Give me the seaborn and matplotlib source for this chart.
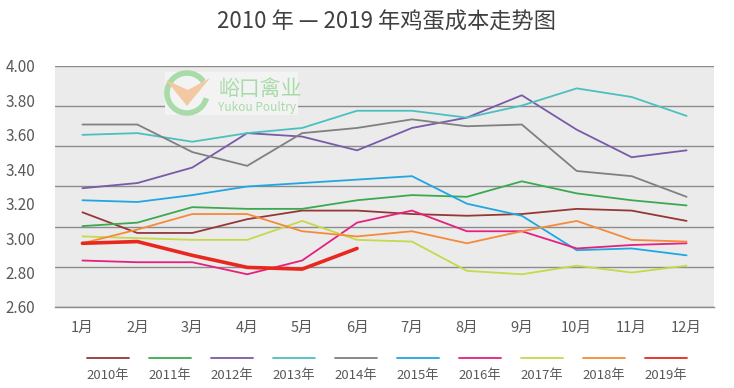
import numpy as np
import pandas as pd
import matplotlib
matplotlib.use("Agg")
import matplotlib.pyplot as plt
from matplotlib.lines import Line2D
from matplotlib.patches import Arc, Polygon, Rectangle
import seaborn as sns

# --- data ---
MONTHS = ["1月", "2月", "3月", "4月", "5月", "6月",
          "7月", "8月", "9月", "10月", "11月", "12月"]
YEARS = ["2010年", "2011年", "2012年", "2013年", "2014年",
         "2015年", "2016年", "2017年", "2018年", "2019年"]

COST_2010 = [3.15, 3.03, 3.03, 3.11, 3.16, 3.16, 3.14, 3.13, 3.14, 3.17, 3.16, 3.10]
COST_2011 = [3.07, 3.09, 3.18, 3.17, 3.17, 3.22, 3.25, 3.24, 3.33, 3.26, 3.22, 3.19]
COST_2012 = [3.29, 3.32, 3.41, 3.61, 3.59, 3.51, 3.64, 3.70, 3.83, 3.63, 3.47, 3.51]
COST_2013 = [3.60, 3.61, 3.56, 3.61, 3.64, 3.74, 3.74, 3.70, 3.77, 3.87, 3.82, 3.71]
COST_2014 = [3.66, 3.66, 3.50, 3.42, 3.61, 3.64, 3.69, 3.65, 3.66, 3.39, 3.36, 3.24]
COST_2015 = [3.22, 3.21, 3.25, 3.30, 3.32, 3.34, 3.36, 3.20, 3.13, 2.93, 2.94, 2.90]
COST_2016 = [2.87, 2.86, 2.86, 2.79, 2.87, 3.09, 3.16, 3.04, 3.04, 2.94, 2.96, 2.97]
COST_2017 = [3.01, 3.00, 2.99, 2.99, 3.10, 2.99, 2.98, 2.81, 2.79, 2.84, 2.80, 2.84]
COST_2018 = [2.97, 3.05, 3.14, 3.14, 3.04, 3.01, 3.04, 2.97, 3.04, 3.10, 2.99, 2.98]
COST_2019 = [2.97, 2.98, 2.90, 2.83, 2.82, 2.94]

SERIES = [COST_2010, COST_2011, COST_2012, COST_2013, COST_2014,
          COST_2015, COST_2016, COST_2017, COST_2018, COST_2019]

Y_LABELS = [2.60, 2.80, 3.00, 3.20, 3.40, 3.60, 3.80, 4.00]

# --- style ---
COLORS = ["#953735", "#3BAA4E", "#7A5AA8", "#4CBFBF", "#808080",
          "#1EA7E1", "#E5207F", "#C5D94B", "#F58B3A", "#E8281F"]
PALETTE = dict(zip(YEARS, COLORS))
WIDTHS = {y: 1.3 for y in YEARS}
WIDTHS["2019年"] = 2.6

BG = "#EBEBEB"
GRID = "#8C8C8C"
TEXT = "#595959"

sns.set_style("white")
plt.rcParams["font.family"] = ["Noto Sans CJK SC", "DejaVu Sans"]

# long-form frame for seaborn
rows = []
for year, vals in zip(YEARS, SERIES):
    for i, v in enumerate(vals):
        rows.append({"year": year, "pos": i, "cost": v})
df = pd.DataFrame(rows)

fig = plt.figure(figsize=(7.34, 3.88), dpi=100)
ax = fig.add_axes([0.0749, 0.2088, 0.8979, 0.6211])
ax.set_facecolor(BG)

sns.lineplot(data=df, x="pos", y="cost", hue="year", size="year",
             palette=PALETTE, sizes=WIDTHS, sort=False, legend=False,
             ax=ax, zorder=3)

ax.set_xlim(-0.5, 11.5)
ax.set_ylim(2.6, 4.0)

# x axis: labels at month centres, tick marks at the boundaries
ax.set_xticks(range(len(MONTHS)))
ax.set_xticklabels(MONTHS)
ax.set_xticks(np.arange(-0.5, len(MONTHS), 1), minor=True)
ax.tick_params(axis="x", which="major", length=0, pad=10,
               labelsize=10.5, labelcolor=TEXT)
ax.tick_params(axis="x", which="minor", length=4, width=0.8,
               color=GRID, direction="out")

# y axis: labels every 0.20, gridlines in six equal bands (as in the source)
ax.set_yticks(Y_LABELS)
ax.set_yticklabels([f"{v:.2f}" for v in Y_LABELS])
ax.set_yticks(np.linspace(2.6, 4.0, 7), minor=True)
ax.yaxis.remove_overlapping_locs = False
ax.tick_params(axis="y", which="both", length=0, pad=14,
               labelsize=11, labelcolor=TEXT)
ax.grid(False)
ax.grid(True, which="minor", axis="y", color=GRID, linewidth=1.0, zorder=1)
ax.set_axisbelow(True)

for side in ["left", "right", "top"]:
    ax.spines[side].set_visible(False)
ax.spines["bottom"].set_color(GRID)
ax.spines["bottom"].set_linewidth(1.0)
ax.set_xlabel("")
ax.set_ylabel("")

# title
fig.text(0.527, 0.943, "2010 年 — 2019 年鸡蛋成本走势图",
         ha="center", va="center", fontsize=16, fontweight="light",
         color="#404040")

# watermark logo
fig.add_artist(Rectangle((1.65, 2.73), 1.33, 0.43, transform=fig.dpi_scale_trans,
                         facecolor="#F3F3F3", edgecolor="none", zorder=2))
fig.add_artist(Arc((1.87, 2.95), 0.40, 0.40, theta1=35, theta2=345,
                   transform=fig.dpi_scale_trans, color="#A8DBA8",
                   linewidth=4, zorder=2))
fig.add_artist(Polygon([(1.66, 3.08), (1.87, 2.82), (2.10, 3.10), (1.88, 2.98)],
                       closed=True, transform=fig.dpi_scale_trans,
                       facecolor="#F2C9A2", edgecolor="none", zorder=2))
fig.text(2.18, 2.98, "峪口禽业", transform=fig.dpi_scale_trans,
         ha="left", va="center", fontsize=15, color="#A8DBA8", zorder=2)
fig.text(2.18, 2.80, "Yukou Poultry", transform=fig.dpi_scale_trans,
         ha="left", va="center", fontsize=8.5, color="#A8DBA8", zorder=2)

# legend: short line above each year label
x_center = 0.527
step = 62 / 734
half = 21 / 734
for i, (year, color) in enumerate(zip(YEARS, COLORS)):
    xc = x_center + (i - 4.5) * step
    fig.add_artist(Line2D([xc - half, xc + half], [1 - 358 / 388] * 2,
                          color=color, linewidth=1.3))
    fig.text(xc, 1 - 376 / 388, year, ha="center", va="center",
             fontsize=9.5, color=TEXT)

fig.savefig("out.png", dpi=100)
